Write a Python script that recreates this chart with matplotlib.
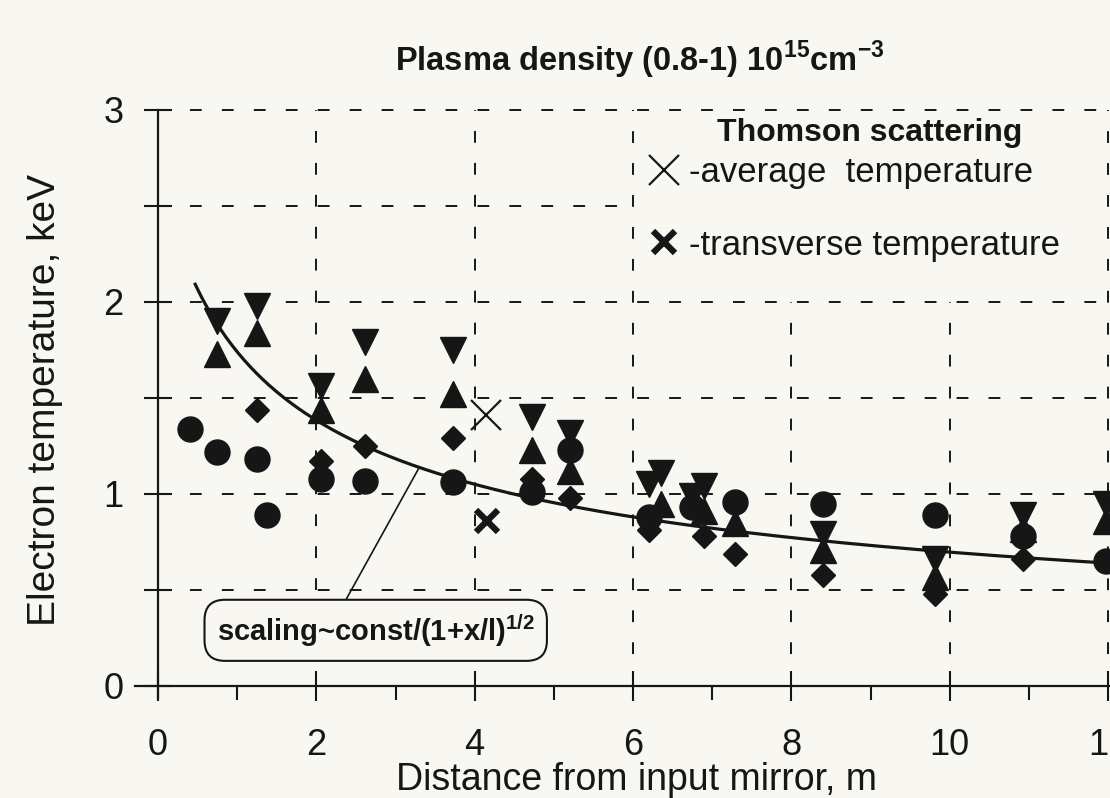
import numpy as np
import matplotlib
matplotlib.use('Agg')
import matplotlib.pyplot as plt
from matplotlib.lines import Line2D

# ---------------- data ----------------
down_x = [0.74, 1.25, 2.06, 2.61, 3.72, 4.72, 5.21, 6.20, 6.35, 6.75, 6.90, 8.40, 9.82, 10.93, 11.98]
down_y = [1.90, 1.98, 1.56, 1.79, 1.75, 1.40, 1.32, 1.05, 1.11, 0.99, 1.04, 0.79, 0.66, 0.89, 0.95]
up_x = [0.74, 1.25, 2.06, 2.61, 3.72, 4.72, 5.21, 6.35, 6.90, 7.29, 8.40, 9.82, 10.93, 11.98]
up_y = [1.73, 1.84, 1.44, 1.60, 1.52, 1.23, 1.12, 0.95, 0.91, 0.85, 0.71, 0.57, 0.82, 0.86]
dia_x = [1.25, 2.06, 2.61, 3.72, 4.72, 5.21, 6.20, 6.90, 7.29, 8.40, 9.82, 10.93]
dia_y = [1.44, 1.17, 1.25, 1.29, 1.08, 0.98, 0.81, 0.78, 0.69, 0.58, 0.48, 0.66]
circ_x = [0.41, 0.74, 1.25, 1.38, 2.06, 2.61, 3.72, 4.72, 5.21, 6.20, 6.75, 7.29, 8.40, 9.82, 10.93, 11.98]
circ_y = [1.34, 1.22, 1.18, 0.89, 1.08, 1.07, 1.06, 1.01, 1.23, 0.88, 0.93, 0.96, 0.95, 0.89, 0.78, 0.65]
avg_x = [4.14]
avg_y = [1.41]
trans_x = [4.16]
trans_y = [0.86]

# scaling fit  T = A / (1 + x/l)^(1/2)
FIT_A = 2.69
FIT_L = 0.72
FIT_XMIN = 0.47

xticks = [0, 2, 4, 6, 8, 10, 12]
yticks = [0, 0.5, 1, 1.5, 2, 2.5, 3]
ytick_labels = ['0', '', '1', '', '2', '', '3']

# ---------------- style ----------------
BASE = 'Liberation Sans'
plt.rcParams['font.family'] = [BASE, 'DejaVu Sans']
plt.rcParams['lines.scale_dashes'] = False
plt.rcParams['mathtext.fontset'] = 'custom'
plt.rcParams['mathtext.rm'] = BASE
plt.rcParams['mathtext.bf'] = BASE + ':bold'

INK = '#161616'
PAPER = '#f8f7f2'

fig = plt.figure(figsize=(11.1, 7.98), dpi=100)
fig.patch.set_facecolor(PAPER)

px_per_x = 79.17
px_per_y = 192.0
x_left = -(158 - 135) / px_per_x
x_right = (1110 - 158) / px_per_x
ax = fig.add_axes([135 / 1110, 92.8 / 798, 975 / 1110, 601 / 798])
ax.set_facecolor(PAPER)
ax.set_xlim(x_left, x_right)
ax.set_ylim(-0.1, 3.03)

for s in ['top', 'right']:
    ax.spines[s].set_visible(False)
ax.spines['left'].set_position(('data', 0))
ax.spines['bottom'].set_position(('data', 0))
ax.spines['left'].set_bounds(-0.06, 3)
for s in ['left', 'bottom']:
    ax.spines[s].set_linewidth(1.6)
    ax.spines[s].set_color(INK)

ax.set_xticks(xticks)
ax.set_xticks([1, 3, 5, 7, 9, 11], minor=True)
ax.set_yticks(yticks)
ax.set_yticklabels(ytick_labels)
ax.tick_params(axis='x', which='major', direction='inout', length=22, width=1.5,
               labelsize=26, pad=19, colors=INK)
ax.tick_params(axis='x', which='minor', direction='out', length=10, width=1.5, colors=INK)
ax.tick_params(axis='y', which='major', direction='inout', length=20, width=1.5,
               labelsize=26, pad=15, colors=INK)

# dashed grid
dash = (0, (8.5, 14.5))
gkw = dict(color=INK, lw=1.4, ls=dash, zorder=1)
ax.hlines([0.5, 1.0, 1.5, 2.0, 3.0], 0, 12, **gkw)
ax.hlines([2.5], 0, 6, **gkw)
ax.vlines([2, 4], 0.5, 3, **gkw)
ax.vlines([6, 12], 0, 3, **gkw)
ax.vlines([8, 10], 0, 2, **gkw)

# fit curve
cx = np.linspace(FIT_XMIN, x_right, 300)
cy = FIT_A / np.sqrt(1 + cx / FIT_L)
ax.plot(cx, cy, color=INK, lw=2.3, zorder=3)

# data markers
mk = dict(ls='none', color=INK, zorder=4)
ax.plot(circ_x, circ_y, marker='o', ms=18, **mk)
ax.plot(dia_x, dia_y, marker='D', ms=12.5, **mk)
ax.plot(up_x, up_y, marker='^', ms=18.5, **mk)
ax.plot(down_x, down_y, marker='v', ms=18.5, **mk)
ax.plot(avg_x, avg_y, marker='x', ms=21, mew=1.6, **mk)
ax.plot(trans_x, trans_y, marker='x', ms=16, mew=4.5, **mk)

# annotation of the scaling law
xa = 3.3
ax.annotate('scaling~const/(1+x/l)$^{\\mathbf{1/2}}$',
            xy=(xa, FIT_A / np.sqrt(1 + xa / FIT_L)), xytext=(2.75, 0.29),
            ha='center', va='center', fontsize=21, fontweight='bold', color=INK,
            bbox=dict(boxstyle='round,pad=0.42,rounding_size=0.7', fc=PAPER, ec=INK, lw=1.5),
            arrowprops=dict(arrowstyle='-', lw=1.2, color=INK, relpos=(0.385, 1.0),
                            shrinkA=0, shrinkB=0),
            zorder=5)

# legend (Thomson scattering)
handles = [Line2D([], [], ls='none', marker='x', ms=21, mew=1.6, color=INK),
           Line2D([], [], ls='none', marker='x', ms=16, mew=4.5, color=INK)]
leg = ax.legend(handles, ['-average  temperature', '-transverse temperature'],
                loc='upper left',
                bbox_to_anchor=((647 - 158) / px_per_x, (686 - 156) / px_per_y),
                bbox_transform=ax.transData,
                frameon=False, borderpad=0, fontsize=25, borderaxespad=0,
                labelspacing=1.14, handlelength=1.0, handletextpad=0.22)
for t in leg.get_texts():
    t.set_color(INK)
ax.text((870 - 158) / px_per_x, (686 - 133) / px_per_y, 'Thomson scattering',
        fontsize=23, fontweight='bold', ha='center', va='center', color=INK)

# titles / labels
fig.text(640 / 1110, 1 - 60 / 798,
         'Plasma density (0.8-1) 10$^{\\mathbf{15}}$cm$^{\\mathbf{-3}}$',
         fontweight='bold', fontsize=23.5, ha='center', va='center', color=INK)
fig.text(637 / 1110, 1 - 780 / 798, 'Distance from input mirror, m',
         fontsize=27, ha='center', va='center', color=INK)
fig.text(45 / 1110, 1 - 400 / 798, 'Electron temperature, keV',
         fontsize=28, rotation=90, ha='center', va='center', color=INK)

fig.savefig('out.png', dpi=100, facecolor=PAPER)
